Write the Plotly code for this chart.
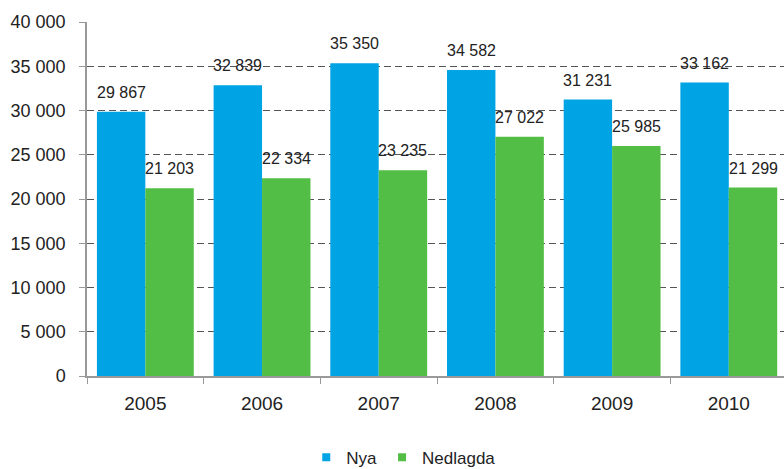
import plotly.graph_objects as go

years = ["2005", "2006", "2007", "2008", "2009", "2010"]
nya = [29867, 32839, 35350, 34582, 31231, 33162]
nedlagda = [21203, 22334, 23235, 27022, 25985, 21299]
yticks = [0, 5000, 10000, 15000, 20000, 25000, 30000, 35000, 40000]

FAM = "Liberation Sans, Arial, sans-serif"
TXT = "#222222"
BLUE = "#00A3E4"
GREEN = "#53BE45"
BARGAP = 0.17

fig = go.Figure()
fig.add_trace(go.Bar(x=years, y=nya, name="Nya", marker=dict(color=BLUE, line=dict(width=0)),
                     showlegend=False))
fig.add_trace(go.Bar(x=years, y=nedlagda, name="Nedlagda", marker=dict(color=GREEN, line=dict(width=0)),
                     showlegend=False))
# legend entries with small square markers
for name, col in [("Nya", BLUE), ("Nedlagda", GREEN)]:
    fig.add_trace(go.Scatter(x=[None], y=[None], mode="markers", name=name,
                             marker=dict(symbol="square", size=8, color=col)))

# value labels above bars
half = (1 - BARGAP) / 4
annotations = []
for i, (a, b) in enumerate(zip(nya, nedlagda)):
    for val, off in [(a, -half), (b, half)]:
        annotations.append(dict(x=i + off, y=val, xref="x", yref="y",
                                text=f"{val:,}".replace(",", " "), showarrow=False,
                                yanchor="bottom", yshift=9,
                                font=dict(family=FAM, size=16, color=TXT)))

fig.update_layout(
    width=784, height=469,
    margin=dict(l=87, r=0, t=22, b=93, autoexpand=False),
    paper_bgcolor="white", plot_bgcolor="white",
    separators=". ",
    barmode="group", bargap=BARGAP, bargroupgap=0,
    font=dict(family=FAM, size=16, color=TXT),
    showlegend=True,
    legend=dict(orientation="h", xref="container", yref="container", x=0.515, xanchor="center",
                y=0.024, yanchor="middle", font=dict(size=17, color=TXT), itemwidth=30,
                tracegroupgap=0, bgcolor="rgba(0,0,0,0)"),
    annotations=annotations,
    xaxis=dict(type="category", range=[-0.5, 5.473], showline=True, linecolor="#999999", linewidth=1.5,
               ticks="outside", tickson="boundaries", ticklen=6, tickcolor="#999999",
               showgrid=False, tickfont=dict(size=19, color=TXT), ticklabelstandoff=9),
    yaxis=dict(range=[0, 40000], tickvals=yticks, tickformat=",d", showline=True,
               linecolor="#999999", linewidth=1.5, ticks="outside", ticklen=6, tickcolor="#999999",
               showgrid=True, gridcolor="#555555", griddash="7px,4px", gridwidth=1,
               zeroline=False, tickfont=dict(size=18, color=TXT), ticklabelstandoff=10),
)

fig.write_html("out.html", config={"displayModeBar": False},
               post_script="document.body.style.margin='0';")
